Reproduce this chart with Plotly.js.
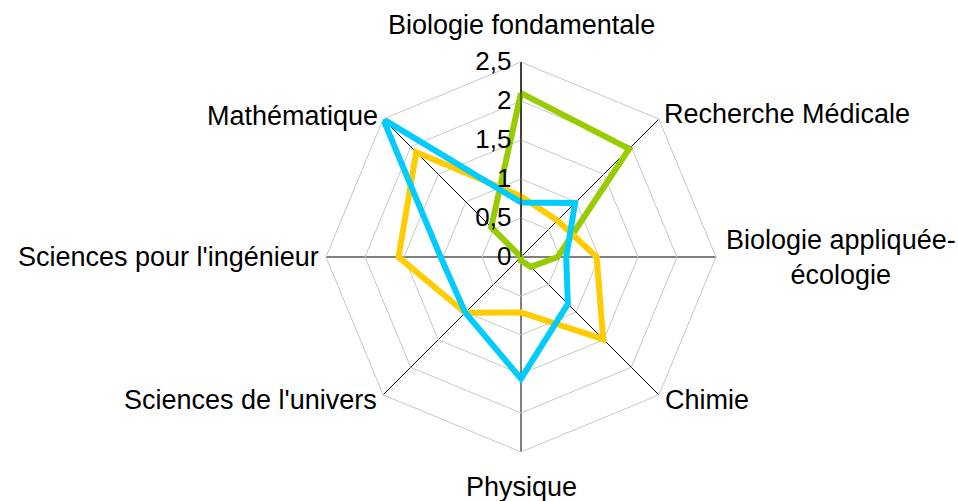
<!DOCTYPE html>
<html>
<head>
<meta charset="utf-8">
<script src="https://cdn.plot.ly/plotly-3.0.1.min.js"></script>
<style>html,body{margin:0;padding:0;background:#fff;}#chart{width:958px;height:501px;}</style>
</head>
<body>
<div id="chart"></div>
<script>
const categories = [
  "Biologie fondamentale",
  "Recherche Médicale",
  "Biologie appliquée-<br>écologie",
  "Chimie",
  "Physique",
  "Sciences de l'univers",
  "Sciences pour l'ingénieur",
  "Mathématique"
];
const greenValues  = [2.10, 1.96, 0.47, 0.18, 0.05, 0.0, 0.0, 0.54];
const yellowValues = [0.78, 0.66, 0.97, 1.49, 0.71, 1.01, 1.57, 1.90];
const blueValues   = [0.70, 0.98, 0.58, 0.85, 1.56, 1.01, 1.03, 2.50];
const radialTicks = [0, 0.5, 1, 1.5, 2, 2.5];

function closed(a){ return a.concat([a[0]]); }
const theta = closed(categories);

function series(vals, color){
  return {
    type: 'scatterpolar', mode: 'lines',
    r: closed(vals), theta: theta,
    line: {color: color, width: 6},
    hoverinfo: 'skip', showlegend: false
  };
}

const data = [
  series(greenValues, '#99CC00'),
  series(yellowValues, '#FFCC00'),
  series(blueValues, '#00CCFF')
];

// plot geometry (pixels)
const W = 958, H = 501;
const M = {l: 184, r: 100, t: 62, b: 49};
const cx = 521, cy = 257, R = 195;
const pw = W - M.l - M.r, ph = H - M.t - M.b;
function px(x){ return (x - M.l) / pw; }
function py(y){ return (H - M.b - y) / ph; }

// category label placement (angle clockwise from top) — text only
const labelPlace = [
  {dx: 0,   dy: -37, xa: 'center', ya: 'middle'},
  {dx: 3,   dy: -5,  xa: 'left',   ya: 'middle'},
  {dx: 8,   dy: 0,   xa: 'left',   ya: 'middle'},
  {dx: 4,   dy: 5,   xa: 'left',   ya: 'middle'},
  {dx: 0,   dy: 35,  xa: 'center', ya: 'middle'},
  {dx: -4,  dy: 5,   xa: 'right',  ya: 'middle'},
  {dx: -5,  dy: 0,   xa: 'right',  ya: 'middle'},
  {dx: -3,  dy: -3,  xa: 'right',  ya: 'middle'}
];
const annotations = categories.map((c, i) => {
  const a = i * Math.PI * 2 / categories.length;
  const vx = cx + R * Math.sin(a), vy = cy - R * Math.cos(a);
  const p = labelPlace[i];
  return {
    text: c, xref: 'paper', yref: 'paper',
    x: px(vx + p.dx), y: py(vy + p.dy),
    xanchor: p.xa, yanchor: p.ya, align: 'center',
    showarrow: false, font: {size: 27, color: '#000'}
  };
});

const layout = {
  width: W, height: H,
  margin: M,
  paper_bgcolor: '#fff',
  separators: ', ',
  font: {family: 'Liberation Sans, Arial, sans-serif', size: 27, color: '#000'},
  showlegend: false,
  annotations: annotations,
  polar: {
    bgcolor: 'rgba(0,0,0,0)',
    gridshape: 'linear',
    radialaxis: {
      range: [0, 2.5], tickvals: radialTicks, tickformat: '.1~f',
      angle: 90, tickangle: 90, side: 'counterclockwise',
      showline: true, linecolor: '#000', linewidth: 1,
      gridcolor: '#c8c8c8', gridwidth: 1,
      ticks: '', tickfont: {size: 26}
    },
    angularaxis: {
      direction: 'clockwise', rotation: 90,
      showline: true, linecolor: '#c8c8c8', linewidth: 1,
      gridcolor: '#000', gridwidth: 1,
      ticks: '', showticklabels: false
    }
  }
};

Plotly.newPlot('chart', data, layout, {staticPlot: true, displayModeBar: false});
</script>
</body>
</html>
